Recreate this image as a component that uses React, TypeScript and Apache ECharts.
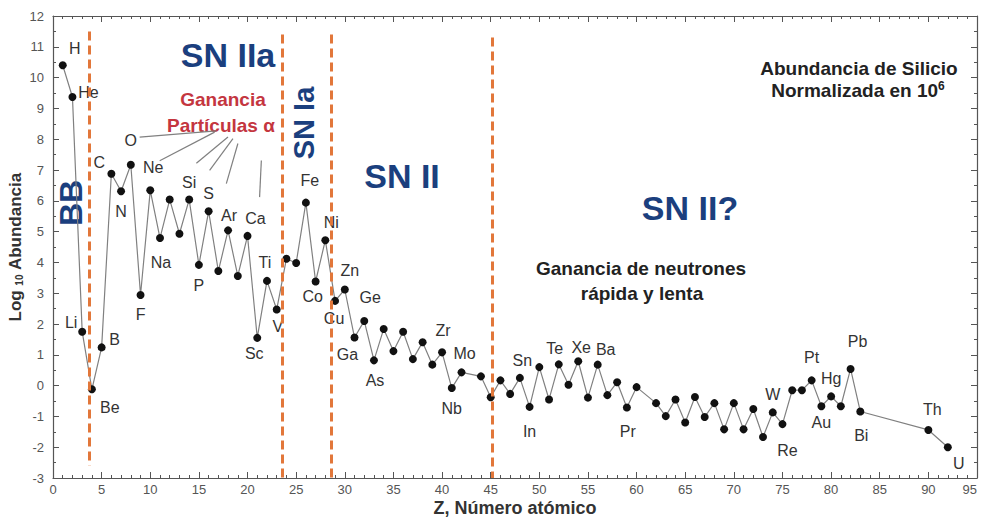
import React, { useEffect, useRef } from 'react';
import * as echarts from 'echarts';

const atomicNumbers = [1,2,3,4,5,6,7,8,9,10,11,12,13,14,15,16,17,18,19,20,21,22,23,24,25,26,27,28,29,30,31,32,33,34,35,36,37,38,39,40,41,42,44,45,46,47,48,49,50,51,52,53,54,55,56,57,58,59,60,62,63,64,65,66,67,68,69,70,71,72,73,74,75,76,77,78,79,80,81,82,83,90,92];
const symbols = ['H','He','Li','Be','B','C','N','O','F','Ne','Na','Mg','Al','Si','P','S','Cl','Ar','K','Ca','Sc','Ti','V','Cr','Mn','Fe','Co','Ni','Cu','Zn','Ga','Ge','As','Se','Br','Kr','Rb','Sr','Y','Zr','Nb','Mo','Ru','Rh','Pd','Ag','Cd','In','Sn','Sb','Te','I','Xe','Cs','Ba','La','Ce','Pr','Nd','Sm','Eu','Gd','Tb','Dy','Ho','Er','Tm','Yb','Lu','Hf','Ta','W','Re','Os','Ir','Pt','Au','Hg','Tl','Pb','Bi','Th','U'];
const logAbundance = [10.4,9.37,1.75,-0.12,1.24,6.88,6.31,7.17,2.94,6.34,4.79,6.04,4.93,6.04,3.92,5.66,3.72,5.04,3.56,4.86,1.55,3.40,2.47,4.12,3.98,5.94,3.38,4.72,2.75,3.12,1.56,2.10,0.82,1.84,1.12,1.75,0.86,1.41,0.68,1.08,-0.08,0.43,0.30,-0.38,0.17,-0.27,0.25,-0.69,0.60,-0.45,0.69,0.03,0.79,-0.39,0.68,-0.31,0.11,-0.71,-0.05,-0.57,-0.99,-0.45,-1.2,-0.37,-1.02,-0.57,-1.42,-0.57,-1.42,-0.76,-1.67,-0.87,-1.25,-0.15,-0.15,0.17,-0.67,-0.35,-0.67,0.54,-0.84,-1.44,-2.0];

// label offsets (pixels) for the labelled elements
const labelOffsets: Record<string, [number, number]> = {
  H: [12, -17], He: [16, -5], Li: [-11, -9], Be: [18, 18], B: [13, -8],
  C: [-12, -11], N: [0, 20], O: [0, -24], F: [0, 19], Ne: [3, -23], Na: [1, 24],
  Si: [0, -17], P: [0, 21], S: [0, -18], Ar: [1, -15], Ca: [8, -17],
  Sc: [-3, 16], Ti: [-2, -18], V: [1, 17], Fe: [4, -22], Co: [-3, 15], Ni: [6, -18],
  Cu: [-1, 18], Zn: [5, -19], Ga: [-7, 17], Ge: [6, -23], As: [1, 20],
  Zr: [1, -22], Nb: [0, 20], Mo: [3, -19], Sn: [-17, -7], In: [0, 25],
  Te: [-4, -16], Xe: [3, -14], Ba: [8, -15], Pr: [1, 24],
  W: [0, -18], Re: [5, 26], Pt: [0, -23], Au: [0, 16], Hg: [0, -18],
  Pb: [7, -27], Bi: [1, 24], Th: [4, -20], U: [11, 16],
};

// region boundaries (Z) with vertical extent in log units
const boundaryZ = [3.7, 23.6, 28.6, 45.2];
const boundaryTop = [11.5, 11.4, 11.4, 11.3];
const boundaryBottom = [-2.6, -3, -3, -3];

// pointer lines from "Partículas α" to the alpha elements [x1,y1,x2,y2]
const pointerLines = [
  [8.91, 8.07, 16.79, 8.27],
  [10.97, 7.30, 16.62, 8.23],
  [14.74, 7.22, 17.99, 8.07],
  [16.1, 6.99, 18.5, 8.02],
  [17.82, 6.56, 19.01, 7.86],
  [21.42, 7.31, 21.24, 6.12],
];

const FONT = '"Liberation Sans", Arial, sans-serif';
const NAVY = '#1b3f7e';

export default function App() {
  const ref = useRef<HTMLDivElement>(null);
  useEffect(() => {
    if (!ref.current) return;
    const chart = echarts.init(ref.current, undefined, { renderer: 'svg' });
    const data = atomicNumbers.map((z, i) => {
      const sym = symbols[i];
      const off = labelOffsets[sym];
      return {
        value: [z, logAbundance[i]],
        name: sym,
        label: off
          ? { show: true, formatter: sym, position: 'inside', offset: off }
          : { show: false },
      };
    });
    const markLines: any[] = [];
    boundaryZ.forEach((z, i) => {
      markLines.push([
        { coord: [z, boundaryTop[i]], lineStyle: { color: '#e2773a', width: 3, type: [9, 5] } },
        { coord: [z, boundaryBottom[i]] },
      ]);
    });
    pointerLines.forEach((l) => {
      markLines.push([
        { coord: [l[0], l[1]], lineStyle: { color: '#808080', width: 1.2, type: 'solid' } },
        { coord: [l[2], l[3]] },
      ]);
    });
    const axisLine = { show: true, onZero: false, lineStyle: { color: '#555', width: 1.2 } };
    const xCommon = {
      type: 'value', min: 0, max: 95, interval: 5,
      axisLine,
      axisTick: { show: true, inside: true, length: 6, lineStyle: { color: '#555' } },
      minorTick: { show: true, splitNumber: 5, length: 3, lineStyle: { color: '#555' } },
      splitLine: { show: false },
    };
    const yCommon = {
      type: 'value', min: -3, max: 12, interval: 1,
      axisLine,
      axisTick: { show: true, inside: true, length: 6, lineStyle: { color: '#555' } },
      minorTick: { show: true, splitNumber: 2, length: 3, lineStyle: { color: '#555' } },
      splitLine: { show: false },
    };
    const txt = (left: number, top: number, text: string, style: any, rotation = 0) => ({
      type: 'text', x: left, y: top, rotation,
      style: { text, textAlign: 'center', textVerticalAlign: 'middle', fontFamily: FONT, ...style },
    });
    chart.setOption({
      animation: false,
      backgroundColor: '#fff',
      grid: { left: 53, top: 16, width: 924, height: 462, containLabel: false, outerBoundsMode: 'none' },
      xAxis: [
        {
          ...xCommon,
          position: 'bottom',
          axisLabel: { color: '#555', fontSize: 13, fontFamily: FONT, margin: 5, alignMaxLabel: 'right' },
          name: 'Z, Número atómico',
          nameLocation: 'middle',
          nameGap: 21,
          nameMoveOverlap: false,
          nameTextStyle: { fontSize: 18, fontWeight: 'bold', color: '#333', fontFamily: FONT, lineHeight: 18 },
        },
        { ...xCommon, position: 'top', axisLabel: { show: false } },
      ],
      yAxis: [
        {
          ...yCommon,
          position: 'left',
          axisLabel: { color: '#555', fontSize: 13, fontFamily: FONT, margin: 9 },
          name: '{a|Log }{s|10}{a| Abundancia}',
          nameLocation: 'middle',
          nameGap: 29,
          nameMoveOverlap: false,
          nameTextStyle: {
            rich: {
              a: { fontSize: 17, fontWeight: 'bold', color: '#333', fontFamily: FONT },
              s: { fontSize: 10, fontWeight: 'bold', color: '#333', fontFamily: FONT, verticalAlign: 'bottom', padding: [6, 0, 0, 0] },
            },
          },
        },
        { ...yCommon, position: 'right', axisLabel: { show: false } },
      ],
      series: [
        {
          type: 'line',
          data,
          symbol: 'circle',
          symbolSize: 8,
          itemStyle: { color: '#111' },
          lineStyle: { color: '#808080', width: 1.2 },
          label: { color: '#333', fontSize: 16, fontFamily: FONT },
          markLine: { silent: true, symbol: 'none', label: { show: false }, data: markLines },
          z: 3,
        },
      ],
      graphic: [
        txt(228, 55, 'SN IIa', { fontSize: 34, fontWeight: 'bold', fill: NAVY }),
        txt(402, 176, 'SN II', { fontSize: 34, fontWeight: 'bold', fill: NAVY }),
        txt(690, 208, 'SN II?', { fontSize: 34, fontWeight: 'bold', fill: NAVY }),
        txt(71, 203, 'BB', { fontSize: 32, fontWeight: 'bold', fill: NAVY }, Math.PI / 2),
        txt(304, 123, 'SN Ia', { fontSize: 29, fontWeight: 'bold', fill: NAVY }, Math.PI / 2),
        txt(223, 99, 'Ganancia', { fontSize: 19, fontWeight: 'bold', fill: '#c4363f' }),
        txt(221, 125, 'Partículas α', { fontSize: 19, fontWeight: 'bold', fill: '#c4363f' }),
        txt(641, 268, 'Ganancia de neutrones', { fontSize: 19, fontWeight: 'bold', fill: '#222' }),
        txt(642, 293, 'rápida y lenta', { fontSize: 19, fontWeight: 'bold', fill: '#222' }),
        txt(859, 68, 'Abundancia de Silicio', { fontSize: 19, fontWeight: 'bold', fill: '#222' }),
        {
          type: 'text', x: 858, y: 90,
          style: {
            text: '{a|Normalizada en 10}{s|6}',
            textAlign: 'center', textVerticalAlign: 'middle',
            rich: {
              a: { fontSize: 19, fontWeight: 'bold', fill: '#222', fontFamily: FONT },
              s: { fontSize: 12, fontWeight: 'bold', fill: '#222', fontFamily: FONT, verticalAlign: 'top', padding: [0, 0, 8, 0] },
            },
          },
        },
      ],
    });
    return () => chart.dispose();
  }, []);
  return <div ref={ref} style={{ width: 982, height: 519, position: 'absolute', left: 0, top: 0 }} />;
}
